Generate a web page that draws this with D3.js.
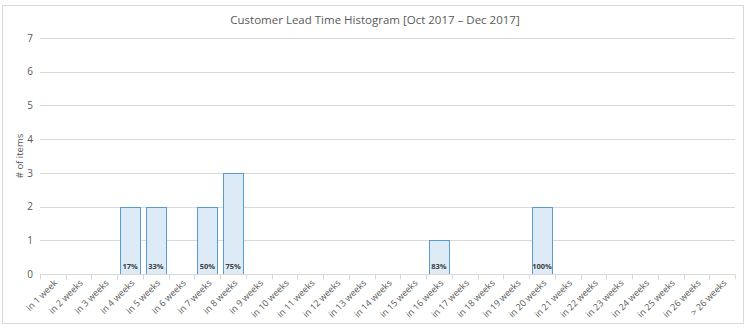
<!DOCTYPE html>
<html><head><meta charset="utf-8">
<script src="https://cdn.jsdelivr.net/npm/d3@7"></script>
<style>body{margin:0;background:#fff;}svg{display:block;font-family:"Open Sans","Liberation Sans",sans-serif;}</style>
</head><body>
<svg id="c" width="748" height="329"></svg>
<script>
const categories = ["in 1 week","in 2 weeks","in 3 weeks","in 4 weeks","in 5 weeks","in 6 weeks","in 7 weeks","in 8 weeks","in 9 weeks","in 10 weeks","in 11 weeks","in 12 weeks","in 13 weeks","in 14 weeks","in 15 weeks","in 16 weeks","in 17 weeks","in 18 weeks","in 19 weeks","in 20 weeks","in 21 weeks","in 22 weeks","in 23 weeks","in 24 weeks","in 25 weeks","in 26 weeks","> 26 weeks"];
const counts = [0,0,0,2,2,0,2,3,0,0,0,0,0,0,0,1,0,0,0,2,0,0,0,0,0,0,0];
const cumLabels = ["","","","17%","33%","","50%","75%","","","","","","","","83%","","","","100%","","","","","","",""];
const yTicks = [0,1,2,3,4,5,6,7];
const title = "Customer Lead Time Histogram [Oct 2017 \u2013 Dec 2017]";
const yTitle = "# of items";

const svg = d3.select("#c");
const m = {l:40, r:13, t:38, b:55};
const W = 748, H = 329;
const x = d3.scaleBand().domain(categories).range([m.l, W - m.r]).paddingInner(0.22).paddingOuter(0.11);
const y = d3.scaleLinear().domain([0,7]).range([H - m.b, m.t]);

// chart border
svg.append("rect").attr("x",2.5).attr("y",5.5).attr("width",741).attr("height",318)
  .attr("fill","#fff").attr("stroke","#d9d9d9");

svg.append("text").attr("x",375).attr("y",24).attr("text-anchor","middle")
  .attr("font-size",11.5).attr("fill","#595959").text(title);

// gridlines
svg.append("g").selectAll("line").data(yTicks.filter(d=>d>0)).join("line")
  .attr("x1",m.l).attr("x2",W-m.r).attr("y1",d=>Math.round(y(d))+0.5).attr("y2",d=>Math.round(y(d))+0.5)
  .attr("stroke","#d9d9d9");

// y axis labels
const ya = svg.append("g").attr("transform",`translate(${m.l},0)`)
  .call(d3.axisLeft(y).tickValues(yTicks).tickSize(0).tickPadding(7).tickFormat(d3.format("d")));
ya.select(".domain").remove();
ya.selectAll("text").attr("font-size",10).attr("fill","#595959").attr("font-family","Open Sans, Liberation Sans, sans-serif");

svg.append("text").attr("transform",`translate(23,156) rotate(-90)`)
  .attr("text-anchor","middle").attr("font-size",9.5).attr("fill","#595959").text(yTitle);

// bars
const step = x.step();
svg.append("g").selectAll("rect").data(categories.map((c,i)=>({c, v:counts[i]})).filter(d=>d.v>0)).join("rect")
  .attr("x",d=>Math.round(x(d.c))+0.5).attr("width",Math.round(x.bandwidth()))
  .attr("y",d=>Math.round(y(d.v))+0.5).attr("height",d=>Math.round(y(0))-Math.round(y(d.v)))
  .attr("fill","#ddebf7").attr("stroke","#5b9bd5").attr("stroke-width",1);

svg.append("g").selectAll("text").data(categories.map((c,i)=>({c, l:cumLabels[i]})).filter(d=>d.l)).join("text")
  .attr("x",d=>x(d.c)+x.bandwidth()/2).attr("y",y(0)-5).attr("text-anchor","middle")
  .attr("font-size",7.5).attr("font-weight","bold").attr("fill","#404040").text(d=>d.l);

// x axis
const y0 = Math.round(y(0))+0.5;
const xa = svg.append("g");
xa.append("line").attr("x1",m.l).attr("x2",W-m.r).attr("y1",y0).attr("y2",y0).attr("stroke","#d9d9d9");
const bounds = d3.range(categories.length+1).map(i => m.l + i*step);
xa.selectAll("line.t").data(bounds).join("line").attr("class","t")
  .attr("x1",d=>Math.round(d)+0.5).attr("x2",d=>Math.round(d)+0.5).attr("y1",y0).attr("y2",y0+5).attr("stroke","#d9d9d9");
const xb = svg.append("g").attr("transform",`translate(0,${y0})`).call(d3.axisBottom(x).tickSize(0).tickPadding(0));
xb.select(".domain").remove();
xb.selectAll("text").attr("font-size",9).attr("fill","#595959")
  .attr("font-family","Open Sans, Liberation Sans, sans-serif")
  .attr("text-anchor","end").attr("dy",0).attr("y",0)
  .attr("transform","translate(5,9) rotate(-45)");
</script>
</body></html>
